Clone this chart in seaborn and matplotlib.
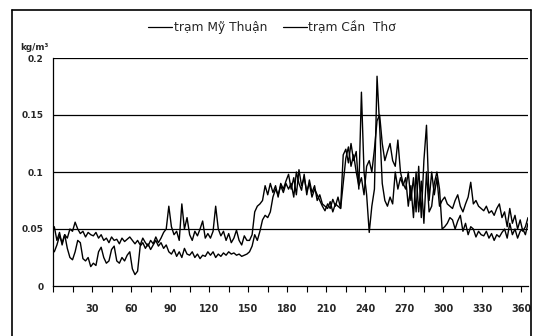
import numpy as np
import pandas as pd
import seaborn as sns
import matplotlib
matplotlib.use("Agg")
import matplotlib.pyplot as plt
from matplotlib.lines import Line2D
from matplotlib.ticker import MultipleLocator, FixedLocator

# Day numbers (every 2nd day of the year)
days = list(range(1, 366, 2))

# Station series (kg/m3)
my_thuan = [
    0.052, 0.040, 0.047, 0.036, 0.045, 0.042, 0.050, 0.048, 0.056, 0.050, 0.046, 0.048, 0.043, 0.047, 0.045,
    0.044, 0.047, 0.042, 0.045, 0.040, 0.042, 0.038, 0.043, 0.040, 0.041, 0.037, 0.042, 0.039, 0.041, 0.043,
    0.040, 0.037, 0.040, 0.036, 0.042, 0.038, 0.035, 0.040, 0.037, 0.043, 0.038, 0.042, 0.047, 0.050, 0.070,
    0.052, 0.045, 0.048, 0.040, 0.072, 0.050, 0.060, 0.045, 0.040, 0.048, 0.044, 0.050, 0.057, 0.042, 0.046,
    0.042, 0.048, 0.070, 0.050, 0.044, 0.048, 0.040, 0.046, 0.038, 0.042, 0.049, 0.040, 0.036, 0.044, 0.040,
    0.040, 0.045, 0.065, 0.070, 0.072, 0.075, 0.088, 0.080, 0.090, 0.082, 0.088, 0.078, 0.090, 0.085, 0.092,
    0.098, 0.085, 0.095, 0.080, 0.102, 0.088, 0.095, 0.083, 0.090, 0.078, 0.085, 0.080, 0.075, 0.070, 0.066,
    0.072, 0.068, 0.076, 0.070, 0.078, 0.068, 0.115, 0.120, 0.108, 0.125, 0.110, 0.118, 0.085, 0.170, 0.100,
    0.080, 0.047, 0.070, 0.085, 0.184, 0.140, 0.090, 0.075, 0.070, 0.078, 0.072, 0.100, 0.085, 0.095, 0.088,
    0.095, 0.070, 0.088, 0.060, 0.100, 0.065, 0.092, 0.055, 0.100, 0.065, 0.070, 0.090, 0.100, 0.085, 0.050,
    0.052, 0.055, 0.060, 0.058, 0.050, 0.057, 0.062, 0.048, 0.055, 0.045, 0.052, 0.050, 0.043, 0.048, 0.045,
    0.044, 0.048, 0.042, 0.046, 0.040, 0.045, 0.043, 0.047, 0.050, 0.042, 0.055, 0.045, 0.050, 0.042, 0.048,
    0.050, 0.045, 0.055,
]
can_tho = [
    0.030, 0.036, 0.044, 0.038, 0.045, 0.033, 0.025, 0.023, 0.030, 0.040, 0.038, 0.024, 0.022, 0.025, 0.017,
    0.020, 0.018, 0.030, 0.034, 0.025, 0.020, 0.022, 0.032, 0.035, 0.022, 0.020, 0.025, 0.022, 0.027, 0.030,
    0.015, 0.010, 0.013, 0.035, 0.038, 0.033, 0.037, 0.032, 0.036, 0.040, 0.035, 0.038, 0.033, 0.036, 0.030,
    0.028, 0.032, 0.026, 0.030, 0.025, 0.033, 0.028, 0.027, 0.030, 0.025, 0.028, 0.024, 0.027, 0.026, 0.030,
    0.027, 0.030, 0.025, 0.028, 0.026, 0.029, 0.027, 0.030, 0.028, 0.029, 0.027, 0.028, 0.026, 0.027, 0.028,
    0.030, 0.035, 0.045, 0.040, 0.048, 0.058, 0.062, 0.060, 0.065, 0.078, 0.085, 0.080, 0.088, 0.082, 0.090,
    0.085, 0.090, 0.078, 0.100, 0.090, 0.084, 0.098, 0.080, 0.093, 0.082, 0.088, 0.075, 0.080, 0.072, 0.070,
    0.068, 0.074, 0.065, 0.072, 0.070, 0.068, 0.090, 0.112, 0.122, 0.105, 0.115, 0.100, 0.088, 0.095, 0.080,
    0.105, 0.110, 0.100, 0.120, 0.145, 0.150, 0.125, 0.110, 0.118, 0.125, 0.110, 0.105, 0.128, 0.100, 0.090,
    0.085, 0.100, 0.075, 0.095, 0.065, 0.105, 0.060, 0.110, 0.141, 0.075, 0.100, 0.080, 0.095, 0.070, 0.075,
    0.078, 0.072, 0.070, 0.068, 0.075, 0.080, 0.070, 0.065, 0.072, 0.078, 0.091, 0.072, 0.075, 0.070, 0.068,
    0.066, 0.070, 0.064, 0.066, 0.062, 0.068, 0.072, 0.060, 0.065, 0.052, 0.068, 0.055, 0.062, 0.050, 0.058,
    0.048, 0.052, 0.060,
]
station_names = ["trạm Mỹ Thuận", "trạm Cần  Thơ"]
x_tick_labels = [30, 60, 90, 120, 150, 180, 210, 240, 270, 300, 330, 360]
y_ticks = [0, 0.05, 0.1, 0.15, 0.2]
y_tick_labels = ["0", "0.05", "0.1", "0.15", "0.2"]

df = pd.DataFrame({
    "day": days * 2,
    "value": my_thuan + can_tho,
    "station": [station_names[0]] * len(days) + [station_names[1]] * len(days),
})

sns.set_theme(style="white")
plt.rcParams["font.family"] = ["DejaVu Sans"]

W, H = 538, 336
fig = plt.figure(figsize=(W / 100, H / 100), dpi=100)
ax = fig.add_axes([53 / W, 1 - 286 / H, (528 - 53) / W, (286 - 58) / H])

sns.lineplot(data=df, x="day", y="value", hue="station",
             palette=["black", "black"], linewidth=1.0, ax=ax, legend=False)

ax.set_xlim(0, 365)
ax.set_ylim(0, 0.2)
ax.set_xlabel("")
ax.set_ylabel("")

# grid lines
for yv in y_ticks[1:]:
    ax.axhline(yv, color="black", lw=0.9, zorder=0)

ax.set_yticks(y_ticks)
ax.set_yticklabels(y_tick_labels, fontsize=6.5, fontweight="bold")
ax.tick_params(axis="y", length=0, pad=7)

ax.xaxis.set_major_locator(FixedLocator(x_tick_labels))
ax.xaxis.set_minor_locator(MultipleLocator(15))
ax.set_xticklabels([str(v) for v in x_tick_labels], fontsize=7, fontweight="bold")
ax.tick_params(axis="x", which="both", direction="out", length=4, width=0.8,
               color="black", bottom=True)
ax.tick_params(axis="x", which="major", pad=9)

for s in ["top", "right"]:
    ax.spines[s].set_visible(False)
for s in ["left", "bottom"]:
    ax.spines[s].set_color("black")
    ax.spines[s].set_linewidth(0.9)

# unit label
fig.text(20 / W, 1 - 47 / H, "kg/m³", fontsize=6.3, fontweight="bold",
         ha="left", va="center")

# legend
handles = [Line2D([], [], color="black", lw=0.9) for _ in station_names]
fig.legend(handles, station_names, loc="center", ncol=2, frameon=False,
           bbox_to_anchor=(272 / W, 1 - 28 / H), fontsize=8.8,
           handlelength=2.0, handletextpad=0.1, columnspacing=1.3)

# outer border
fig.add_artist(Line2D([12 / W, 12 / W], [0, 1 - 10 / H], color="black", lw=1.2,
                      transform=fig.transFigure))
fig.add_artist(Line2D([12 / W, 531 / W], [1 - 10 / H, 1 - 10 / H], color="black", lw=1.2,
                      transform=fig.transFigure))
fig.add_artist(Line2D([531 / W, 531 / W], [0, 1 - 10 / H], color="black", lw=1.2,
                      transform=fig.transFigure))

fig.savefig("out.png", dpi=100)
